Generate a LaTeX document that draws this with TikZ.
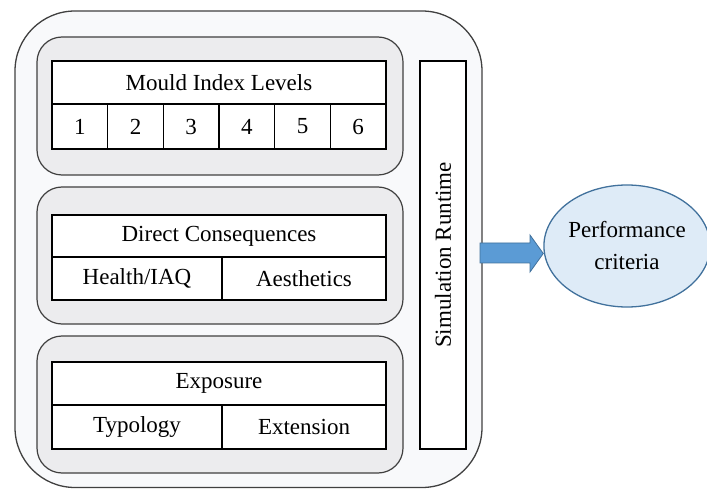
\documentclass[tikz,border=0pt]{standalone}
\usepackage{fontspec}
\setmainfont{Liberation Serif}
\usetikzlibrary{shapes.geometric}
\definecolor{outerfill}{RGB}{248,249,251}
\definecolor{panelfill}{RGB}{236,236,238}
\definecolor{edgegray}{RGB}{64,64,64}
\definecolor{ellfill}{RGB}{222,235,247}
\definecolor{elledge}{RGB}{65,113,156}
\definecolor{arrowfill}{RGB}{91,155,213}
\begin{document}
\begin{tikzpicture}[x=1pt,y=-1pt,
  font=\fontsize{23}{27}\selectfont,
  outerbox/.style={draw=edgegray, line width=1.3pt, fill=outerfill, rounded corners=60pt},
  panel/.style={draw=edgegray, line width=1.2pt, fill=panelfill, rounded corners=25pt},
  cell/.style={draw=black, line width=1.4pt, fill=white, inner sep=0pt, anchor=center},
]
\useasboundingbox (0,0) rectangle (707,489);
\path[outerbox] (15,11) rectangle (482,487.5);
\path[panel] (37,37) rectangle (403,175);
\path[panel] (37,187) rectangle (403,324);
\path[panel] (37,336) rectangle (403,473);
% Table 1
\node[cell, minimum width=334pt, minimum height=43pt] (mil) at (219,82.5) {Mould Index Levels};
\foreach \i/\xc in {1/79.8,2/135.5,3/191.2,4/246.8,5/302.5,6/358.2}{
  \node[cell, minimum width=55.67pt, minimum height=45pt] (l\i) at (\xc,126.5) {\i};
}
% Table 2
\node[cell, minimum width=334pt, minimum height=42pt] (dc) at (219,236) {Direct Consequences};
\node[cell, minimum width=170pt, minimum height=43pt] (hiaq) at (137,278.5) {Health/IAQ};
\node[cell, minimum width=164pt, minimum height=43pt] (aes) at (304,278.5) {Aesthetics};
% Table 3
\node[cell, minimum width=334pt, minimum height=43pt] (exp) at (219,383.5) {Exposure};
\node[cell, minimum width=170pt, minimum height=44pt] (typ) at (137,427) {Typology};
\node[cell, minimum width=164pt, minimum height=44pt] (ext) at (304,427) {Extension};
% Simulation runtime
\node[cell, minimum width=46pt, minimum height=388pt] (sim) at (443,255) {};
\node[rotate=90, inner sep=0pt] (simtxt) at (443,255) {Simulation Runtime};
% Ellipse
\node[ellipse, draw=elledge, line width=1.3pt, fill=ellfill, minimum width=160pt, minimum height=122pt, align=center, inner sep=0pt, font=\fontsize{23}{32}\selectfont] (perf) at (627,246) {Performance\\criteria};
% Block arrow
\draw[draw=elledge, line width=0.8pt, fill=arrowfill]
  (480,243) -- (530,243) -- (530,235) -- (perf.west |- 0,253.5) -- (530,272) -- (530,263) -- (480,263) -- cycle;
\end{tikzpicture}
\end{document}
